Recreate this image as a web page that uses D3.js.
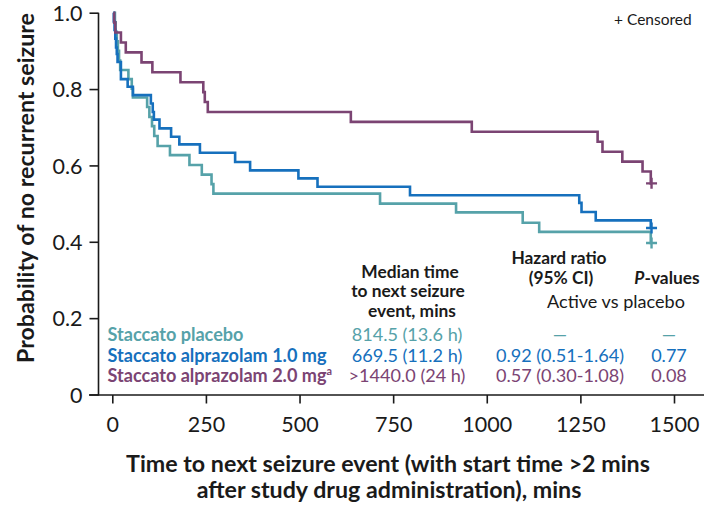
<!DOCTYPE html>
<html>
<head>
<meta charset="utf-8">
<script src="https://cdn.jsdelivr.net/npm/d3@7"></script>
<style>
  html, body { margin: 0; padding: 0; background: #fff; }
  svg { display: block; font-family: Lato, "Open Sans", sans-serif; }
</style>
</head>
<body>
<svg id="chart" width="709" height="508"></svg>
<script>
// ---------------- data ----------------
const seriesNames = ["Staccato placebo", "Staccato alprazolam 1.0 mg", "Staccato alprazolam 2.0 mg"];
const seriesColors = ["#56a2a9", "#1670bd", "#7b4473"];

// Kaplan–Meier step points: [time (mins), survival probability after the step]
const placeboSteps = [
  [3, 1.0], [7, 0.975], [9, 0.95], [12, 0.925], [15, 0.90], [18, 0.875], [21, 0.85],
  [43, 0.826], [52, 0.801], [55, 0.778], [93, 0.753], [99, 0.727], [106, 0.703],
  [112, 0.677], [121, 0.651], [154, 0.627], [206, 0.601], [239, 0.576], [265, 0.551],
  [270, 0.526], [715, 0.500], [918, 0.477], [1096, 0.450], [1140, 0.426], [1438, 0.397]
];
const alp1Steps = [
  [3, 1.0], [4, 0.977], [6, 0.955], [8, 0.932], [10, 0.909], [12, 0.892], [14, 0.871],
  [23, 0.826], [41, 0.806], [55, 0.784], [103, 0.762], [108, 0.740], [111, 0.720],
  [126, 0.697], [157, 0.675], [179, 0.655], [234, 0.633], [328, 0.609], [368, 0.587],
  [497, 0.566], [548, 0.544], [795, 0.522], [1247, 0.502], [1253, 0.478], [1291, 0.456],
  [1438, 0.436]
];
const alp2Steps = [
  [3, 1.0], [5, 0.974], [8, 0.948], [23, 0.922], [36, 0.896], [78, 0.870], [107, 0.844],
  [182, 0.818], [243, 0.792], [247, 0.766], [255, 0.740], [637, 0.714], [960, 0.688],
  [1296, 0.662], [1309, 0.636], [1362, 0.610], [1416, 0.584], [1438, 0.553]
];
const followUpEnd = 1440;           // last censoring time (mins)
const censorTimes = [1440, 1440, 1440];

const xTicks = [0, 250, 500, 750, 1000, 1250, 1500];
const yTicks = [0, 0.2, 0.4, 0.6, 0.8, 1.0];

const medianCol = ["814.5 (13.6 h)", "669.5 (11.2 h)", ">1440.0 (24 h)"];
const hazardCol = ["\u2014", "0.92 (0.51-1.64)", "0.57 (0.30-1.08)"];
const pCol = ["\u2014", "0.77", "0.08"];

// ---------------- layout ----------------
const svg = d3.select("#chart");
const x = d3.scaleLinear().domain([0, 1500]).range([112.3, 674]);
const y = d3.scaleLinear().domain([0, 1]).range([394.5, 12.7]);

function fitSize(str, weight, target) {
  const t = svg.append("text").attr("font-size", 100).attr("font-weight", weight).text(str);
  const w = t.node().getComputedTextLength();
  t.remove();
  return 100 * target / w;
}

const tableSize = fitSize("Staccato alprazolam 1.0 mg", 700, 219);
const yLabSize = fitSize("Probability of no recurrent seizure", 700, 350);
const xLabSize = fitSize("Time to next seizure event (with start time >2 mins", 700, 524);
const tickFont = 21.5;

// ---------------- axes ----------------
const yAxis = d3.axisLeft(y).tickValues(yTicks).tickSize(9).tickSizeOuter(0).tickPadding(7)
  .tickFormat(d => d === 0 ? "0" : d3.format(".1f")(d));
const gy = svg.append("g").attr("transform", "translate(98.5,0)").call(yAxis);
gy.select(".domain").attr("d", `M0,${y(1)}V${y(0) + 1}`);

const xAxis = d3.axisBottom(x).tickValues(xTicks).tickSize(8.5).tickSizeOuter(0).tickPadding(13)
  .tickFormat(d3.format("d"));
const gx = svg.append("g").attr("transform", "translate(0,395)").call(xAxis);
gx.select(".domain").attr("d", "M89,0H704");

[gx, gy].forEach(g => {
  g.selectAll("path, line").attr("stroke", "#1a1a1a").attr("stroke-width", 1.6);
  g.selectAll("text").attr("font-size", tickFont).attr("fill", "#1a1a1a")
    .attr("font-family", "Lato, sans-serif");
});
gy.selectAll("text").attr("dy", "0.36em");

// axis titles
svg.append("text")
  .attr("transform", `translate(34,188) rotate(-90)`)
  .attr("text-anchor", "middle").attr("font-weight", 700).attr("font-size", yLabSize)
  .attr("fill", "#1a1a1a").text("Probability of no recurrent seizure");

svg.append("text").attr("x", 388).attr("y", 472).attr("text-anchor", "middle")
  .attr("font-weight", 700).attr("font-size", xLabSize).attr("fill", "#1a1a1a")
  .text("Time to next seizure event (with start time >2 mins");
svg.append("text").attr("x", 389).attr("y", 498).attr("text-anchor", "middle")
  .attr("font-weight", 700).attr("font-size", xLabSize).attr("fill", "#1a1a1a")
  .text("after study drug administration), mins");

// ---------------- curves ----------------
const line = d3.line().x(d => x(d[0])).y(d => y(d[1])).curve(d3.curveStepAfter);
const allSteps = [placeboSteps, alp1Steps, alp2Steps];
allSteps.forEach((steps, i) => {
  const pts = steps.concat([[followUpEnd, steps[steps.length - 1][1]]]);
  svg.append("path").datum(pts).attr("d", line)
    .attr("fill", "none").attr("stroke", seriesColors[i]).attr("stroke-width", 2.6)
    .attr("stroke-linejoin", "miter");
  // censor mark
  const cx = x(censorTimes[i]), cy = y(steps[steps.length - 1][1]);
  svg.append("path")
    .attr("d", `M${cx - 5.5},${cy}H${cx + 5.5}M${cx},${cy - 5.5}V${cy + 5.5}`)
    .attr("stroke", seriesColors[i]).attr("stroke-width", 2.4).attr("fill", "none");
});

svg.append("text").attr("x", 614).attr("y", 25).attr("font-size", 15.5).attr("fill", "#1a1a1a")
  .text("+ Censored");

// ---------------- table ----------------
const rowY = [340.7, 361.5, 382];
const tbl = svg.append("g").attr("font-size", tableSize);
const hdrSize = tableSize * 0.96;

// headers
const hdr = tbl.append("g").attr("font-weight", 700).attr("fill", "#1a1a1a")
  .attr("text-anchor", "middle").attr("font-size", hdrSize);
hdr.append("text").attr("x", 410).attr("y", 277.5).text("Median time");
hdr.append("text").attr("x", 408).attr("y", 297).text("to next seizure");
hdr.append("text").attr("x", 412).attr("y", 316.5).text("event, mins");
hdr.append("text").attr("x", 559).attr("y", 264).text("Hazard ratio");
hdr.append("text").attr("x", 561).attr("y", 283.5).text("(95% CI)");
const pv = hdr.append("text").attr("x", 667).attr("y", 283.5);
pv.append("tspan").attr("font-style", "italic").text("P");
pv.append("tspan").text("-values");
tbl.append("text").attr("x", 616).attr("y", 307.5).attr("text-anchor", "middle")
  .attr("fill", "#1a1a1a").text("Active vs placebo");

seriesNames.forEach((name, i) => {
  const t = tbl.append("text").attr("x", 107.5).attr("y", rowY[i]).attr("font-weight", 700)
    .attr("fill", seriesColors[i]).text(name);
  if (i === 2) {
    t.append("tspan").attr("font-size", tableSize * 0.6).attr("dy", "-0.65em").text("a");
  }
  tbl.append("text").attr("x", 407).attr("y", rowY[i]).attr("text-anchor", "middle")
    .attr("fill", seriesColors[i]).text(medianCol[i]);
  tbl.append("text").attr("x", 560).attr("y", rowY[i]).attr("text-anchor", "middle")
    .attr("fill", seriesColors[i]).text(hazardCol[i]);
  tbl.append("text").attr("x", 669).attr("y", rowY[i]).attr("text-anchor", "middle")
    .attr("fill", seriesColors[i]).text(pCol[i]);
});
</script>
</body>
</html>
